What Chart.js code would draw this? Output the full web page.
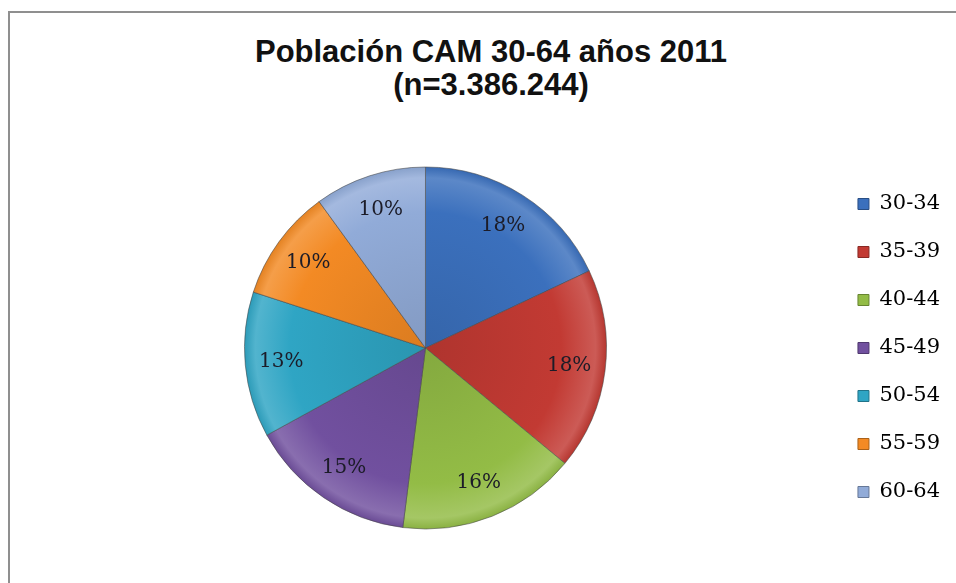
<!DOCTYPE html>
<html lang="es">
<head>
<meta charset="utf-8">
<title>Población CAM 30-64 años 2011</title>
<script src="https://cdn.jsdelivr.net/npm/chart.js@4/dist/chart.umd.min.js"></script>
<style>
  html, body { margin: 0; padding: 0; background: #fff; }
  body { width: 956px; height: 583px; position: relative; overflow: hidden; }
  #marco {
    position: absolute; left: 8px; top: 11px; width: 1000px; height: 640px;
    border-left: 2px solid #8f8f8f; border-top: 2px solid #8f8f8f;
  }
  #titulo {
    position: absolute; left: 191px; top: 35px; width: 600px;
    text-align: center; font: bold 31px "Liberation Sans", Arial, sans-serif;
    line-height: 33px; color: #111;
  }
  #grafico { position: absolute; left: 0; top: 0; }
</style>
</head>
<body>
<div id="marco"></div>
<div id="titulo">Población CAM 30-64 años 2011<br>(n=3.386.244)</div>
<canvas id="grafico" width="956" height="583"></canvas>

<script>
// ---- Datos ----
const grupos = ["30-34", "35-39", "40-44", "45-49", "50-54", "55-59", "60-64"];
const porcentajes = [18, 18, 16, 15, 13, 10, 10];
const colores = ["#3b70bd", "#c23a33", "#93bc46", "#71509f", "#2fa5c4", "#f38a24", "#91abd8"];
const RADIO = 181;

// aclara (+) u oscurece (-) un color hex
function tono(hex, f) {
  const n = parseInt(hex.slice(1), 16);
  let r = n >> 16, g = (n >> 8) & 255, b = n & 255;
  const mez = (c) => f >= 0 ? Math.round(c + (255 - c) * f) : Math.round(c * (1 + f));
  return `rgb(${mez(r)},${mez(g)},${mez(b)})`;
}

// relleno con brillo en el borde de cada porción
const cacheGrad = {};
function relleno(ctx) {
  const chart = ctx.chart;
  const i = ctx.dataIndex;
  const base = colores[i];
  const area = chart.chartArea;
  if (!area) return base;
  const cx = (area.left + area.right) / 2;
  const cy = (area.top + area.bottom) / 2;
  const key = i + ":" + cx + ":" + cy;
  if (cacheGrad[key]) return cacheGrad[key];
  const g = chart.ctx.createRadialGradient(cx, cy, 0, cx, cy, RADIO);
  g.addColorStop(0, tono(base, -0.1));
  g.addColorStop(0.75, base);
  g.addColorStop(0.94, tono(base, 0.17));
  g.addColorStop(1, tono(base, -0.06));
  cacheGrad[key] = g;
  return g;
}

// porcentaje dentro de cada porción
const etiquetasPorcion = {
  id: "etiquetasPorcion",
  afterDatasetsDraw(chart) {
    const { ctx } = chart;
    const meta = chart.getDatasetMeta(0);
    ctx.save();
    ctx.font = '20px "DejaVu Serif", serif';
    ctx.fillStyle = "#1c1c28";
    ctx.textAlign = "center";
    ctx.textBaseline = "middle";
    meta.data.forEach((arc, i) => {
      const p = arc.getProps(["x", "y", "startAngle", "endAngle", "outerRadius"], true);
      const a = (p.startAngle + p.endAngle) / 2;
      const r = p.outerRadius * 0.8;
      ctx.fillText(porcentajes[i] + "%", p.x + Math.cos(a) * r, p.y + Math.sin(a) * r);
    });
    ctx.restore();
  },
};

new Chart(document.getElementById("grafico"), {
  type: "pie",
  data: {
    labels: grupos,
    datasets: [
      {
        data: porcentajes,
        backgroundColor: relleno,
        borderColor: "rgba(70,70,70,0.55)",
        borderWidth: 1,
        radius: RADIO,
      },
    ],
  },
  options: {
    responsive: false,
    animation: false,
    layout: { padding: { top: 160, bottom: 47, left: 20, right: 6 } },
    plugins: {
      tooltip: { enabled: false },
      title: { display: false },
      legend: {
        position: "right",
        labels: {
          boxWidth: 11,
          boxHeight: 11,
          padding: 27,
          color: "#111",
          font: { family: '"DejaVu Serif", serif', size: 21 },
          generateLabels: (chart) =>
            grupos.map((g, i) => ({
              text: g,
              fillStyle: colores[i],
              strokeStyle: tono(colores[i], -0.3),
              lineWidth: 1,
              index: i,
              hidden: false,
            })),
        },
      },
    },
  },
  plugins: [etiquetasPorcion],
});
</script>
</body>
</html>
